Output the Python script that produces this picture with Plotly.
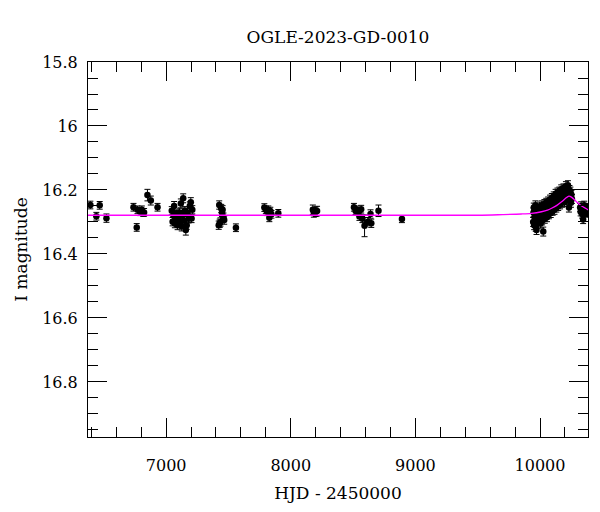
import plotly.graph_objects as go

# ---- data (HJD - 2450000, I mag, error) ----
t_sparse = [6392, 6440, 6467, 6521,
            6738, 6764, 6770, 6791, 6805, 6815, 6823, 6850, 6877, 6931,
            7045, 7052, 7058, 7064, 7070, 7078, 7085, 7092, 7100, 7108, 7112, 7118,
            7125, 7130, 7137, 7142, 7150, 7158, 7165, 7172, 7180, 7190, 7198, 7204, 7210,
            7422, 7426, 7430, 7436, 7442, 7448, 7453, 7460, 7466, 7560,
            7788, 7800, 7810, 7820, 7828, 7836, 7845, 7900,
            8177, 8185, 8200, 8211,
            8507, 8520, 8528, 8544, 8551, 8565, 8575, 8592, 8619, 8640, 8646, 8704,
            8892]
m_sparse = [16.247, 16.282, 16.248, 16.288,
            16.254, 16.317, 16.262, 16.268, 16.262, 16.270, 16.270, 16.216, 16.233, 16.254,
            16.265, 16.299, 16.280, 16.250, 16.305, 16.290, 16.275, 16.310, 16.285, 16.270, 16.300, 16.242,
            16.314, 16.280, 16.226, 16.295, 16.265, 16.325, 16.310, 16.270, 16.290, 16.250, 16.238, 16.289, 16.262,
            16.310, 16.247, 16.304, 16.300, 16.258, 16.270, 16.262, 16.285, 16.294, 16.318,
            16.255, 16.262, 16.268, 16.262, 16.287, 16.266, 16.276, 16.273,
            16.262, 16.270, 16.268, 16.266,
            16.254, 16.265, 16.262, 16.268, 16.283, 16.260, 16.290, 16.312, 16.299, 16.275, 16.304, 16.265,
            16.291]
e_sparse = [0.012, 0.012, 0.012, 0.013,
            0.012, 0.012, 0.012, 0.012, 0.012, 0.012, 0.012, 0.018, 0.014, 0.012,
            0.013, 0.013, 0.013, 0.014, 0.013, 0.013, 0.013, 0.014, 0.013, 0.013, 0.013, 0.014,
            0.014, 0.013, 0.014, 0.013, 0.013, 0.016, 0.013, 0.013, 0.013, 0.013, 0.014, 0.013, 0.013,
            0.013, 0.013, 0.013, 0.013, 0.013, 0.013, 0.013, 0.013, 0.013, 0.012,
            0.012, 0.012, 0.012, 0.012, 0.012, 0.012, 0.012, 0.012,
            0.015, 0.015, 0.015, 0.015,
            0.012, 0.012, 0.012, 0.012, 0.012, 0.012, 0.012, 0.034, 0.013, 0.013, 0.013, 0.018,
            0.011]

t_2023 = [9945, 9948, 9950, 9953, 9956, 9958, 9961, 9963, 9966, 9968, 9971, 9972, 9975, 9978,
          9981, 9984, 9987, 9990, 9993, 9996, 9999, 10002, 10005, 10008, 10011, 10014, 10017,
          10020, 10023, 10026, 10029, 10032, 10035, 10038, 10041, 10044, 10047, 10050, 10053,
          10056, 10059, 10062, 10065, 10068, 10071, 10074, 10077, 10080, 10083, 10086, 10089,
          10092, 10095, 10098, 10101, 10104, 10107, 10110, 10113, 10116, 10119, 10122, 10125,
          10128, 10131, 10134, 10137, 10140, 10143, 10146, 10149, 10152, 10155, 10158, 10161,
          10164, 10167, 10170, 10173, 10176, 10180, 10184, 10188, 10192, 10196, 10200, 10204,
          10208, 10212, 10216, 10220, 10224, 10228, 10232, 10236, 10240, 10244, 10248, 10252, 10256]
m_2023 = [16.300, 16.270, 16.255, 16.310, 16.285, 16.265, 16.295, 16.248, 16.315, 16.280, 16.262, 16.325, 16.290, 16.272,
          16.305, 16.258, 16.283, 16.298, 16.266, 16.252, 16.288, 16.275, 16.305, 16.260, 16.282, 16.248, 16.295,
          16.270, 16.258, 16.330, 16.283, 16.262, 16.244, 16.290, 16.268, 16.252, 16.278, 16.240, 16.262,
          16.285, 16.250, 16.270, 16.236, 16.258, 16.276, 16.245, 16.265, 16.230, 16.252, 16.272, 16.240,
          16.258, 16.225, 16.248, 16.265, 16.232, 16.252, 16.220, 16.242, 16.262, 16.228, 16.246, 16.212,
          16.236, 16.255, 16.220, 16.240, 16.208, 16.230, 16.250, 16.215, 16.235, 16.205, 16.225, 16.245,
          16.210, 16.228, 16.198, 16.220, 16.240, 16.205, 16.225, 16.195, 16.215, 16.238, 16.200, 16.222,
          16.188, 16.212, 16.232, 16.195, 16.185, 16.215, 16.255, 16.200, 16.225, 16.205, 16.240, 16.215, 16.228]
e_2023 = 0.014

t_2024 = [10322, 10326, 10330, 10334, 10338, 10342, 10346, 10350, 10355, 10360, 10365, 10370,
          10375, 10380, 10385, 10390, 10395]
m_2024 = [16.255, 16.268, 16.250, 16.262, 16.275, 16.258, 16.292, 16.262, 16.248, 16.270, 16.258, 16.265,
          16.255, 16.272, 16.262, 16.268, 16.258]
e_2024 = 0.013

# model curve
model_t = [6373, 9500, 9700, 9850, 9932, 10012, 10060, 10093, 10135, 10173, 10205, 10232,
           10255, 10278, 10305, 10334, 10387]
model_m = [16.279, 16.279, 16.277, 16.275, 16.273, 16.268, 16.263, 16.257, 16.248, 16.237, 16.226, 16.219,
           16.223, 16.231, 16.241, 16.250, 16.262]

title_text = "OGLE-2023-GD-0010"
x_label = "HJD - 2450000"
y_label = "I magnitude"

FONT = "DejaVu Serif"

t_all = t_sparse + t_2023 + t_2024
m_all = m_sparse + m_2023 + m_2024
e_all = e_sparse + [e_2023] * len(t_2023) + [e_2024] * len(t_2024)

fig = go.Figure()
fig.add_trace(go.Scatter(
    x=t_all, y=m_all, mode="markers",
    marker=dict(color="black", size=6.5),
    error_y=dict(type="data", array=e_all, visible=True, color="black", thickness=1, width=3),
    showlegend=False, cliponaxis=True,
))
fig.add_trace(go.Scatter(
    x=model_t, y=model_m, mode="lines",
    line=dict(color="#ff00ff", width=1.3, shape="spline", smoothing=0.8),
    showlegend=False,
))

axis_common = dict(
    showline=True, linecolor="black", linewidth=1, mirror="ticks",
    ticks="inside", ticklen=19, tickwidth=1, tickcolor="black",
    showgrid=False, zeroline=False,
    tickfont=dict(family=FONT, size=16, color="black"),
)

fig.update_xaxes(
    range=[6373, 10385], tick0=7000, dtick=1000, tickformat="d",
    minor=dict(ticks="inside", ticklen=10, dtick=200, tick0=6400, tickcolor="black", showgrid=False),
    title=dict(text=x_label, font=dict(family=FONT, size=17, color="black"), standoff=12),
    ticklabelstandoff=14,
    **axis_common,
)
fig.update_yaxes(
    range=[16.972, 15.8], tick0=15.8, dtick=0.2,
    minor=dict(ticks="inside", ticklen=10, dtick=0.05, tickcolor="black", showgrid=False),
    title=dict(text=y_label, font=dict(family=FONT, size=17, color="black"), standoff=10),
    ticklabelstandoff=6,
    **axis_common,
)

fig.update_layout(
    width=600, height=512,
    margin=dict(l=88, r=12, t=62, b=75),
    paper_bgcolor="white", plot_bgcolor="white",
    title=dict(text=title_text, x=0.5, xanchor="center", xref="paper",
               y=1 - 37 / 512, yref="container", yanchor="middle",
               font=dict(family=FONT, size=17, color="black")),
)

fig.write_html("out.html", config={"displayModeBar": False},
               post_script="document.body.style.margin='0';")
